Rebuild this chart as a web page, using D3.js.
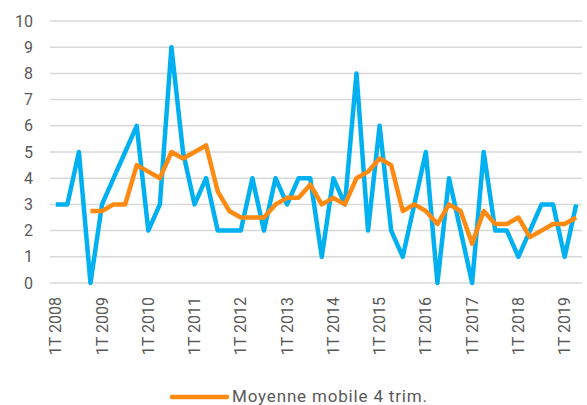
<!DOCTYPE html>
<html>
<head>
<meta charset="utf-8">
<script src="https://cdn.jsdelivr.net/npm/d3@7"></script>
<style>
  body { margin: 0; background: #fff; }
  svg text { font-family: Roboto, 'Noto Sans', sans-serif; fill: #595959; }
</style>
</head>
<body>
<div id="chart"></div>
<script>
// quarterly series, 1T 2008 .. 2T 2019
const years = d3.range(2008, 2020)
const quarters = []
years.forEach(y => [1, 2, 3, 4].forEach(q => quarters.push(`${q}T ${y}`)))
const categories = quarters.slice(0, 46)

const values = [3, 3, 5, 0, 3, 4, 5, 6, 2, 3, 9, 5, 3, 4, 2, 2,
  2, 4, 2, 4, 3, 4, 4, 1, 4, 3, 8, 2, 6, 2, 1, 3,
  5, 0, 4, 2, 0, 5, 2, 2, 1, 2, 3, 3, 1, 3]

// moyenne mobile 4 trim. (null before the first full window)
const movingAvg = [null, null, null, 2.75, 2.75, 3, 3, 4.5, 4.25, 4, 5, 4.75, 5, 5.25, 3.5, 2.75,
  2.5, 2.5, 2.5, 3, 3.25, 3.25, 3.75, 3, 3.25, 3, 4, 4.25, 4.75, 4.5, 2.75, 3,
  2.75, 2.25, 3, 2.75, 1.5, 2.75, 2.25, 2.25, 2.5, 1.75, 2, 2.25, 2.25, 2.5]

const yTicks = d3.range(0, 11)
const legendLabel = 'Moyenne mobile 4 trim.'

const width = 587
const height = 405
const margin = { top: 21, right: 5, bottom: 122, left: 50 }

const svg = d3.select('#chart').append('svg')
  .attr('width', width)
  .attr('height', height)

const xScale = d3.scaleBand()
  .domain(categories)
  .range([margin.left, width - margin.right])

const yScale = d3.scaleLinear()
  .domain([0, 10])
  .range([height - margin.bottom, margin.top])

// horizontal gridlines
svg.append('g')
  .selectAll('line')
  .data(yTicks)
  .join('line')
  .attr('x1', margin.left)
  .attr('x2', width - margin.right)
  .attr('y1', d => yScale(d))
  .attr('y2', d => yScale(d))
  .attr('stroke', '#d9d9d9')
  .attr('stroke-width', 1.5)

// y axis labels
const yAxis = d3.axisLeft(yScale).tickValues(yTicks).tickSize(0).tickPadding(17)
svg.append('g')
  .attr('transform', `translate(${margin.left},0)`)
  .call(yAxis)
  .call(g => g.select('.domain').remove())
  .selectAll('text')
  .style('font-size', '16px')

// x axis, one label per year (1T)
const xAxis = d3.axisBottom(xScale)
  .tickValues(categories.filter(d => d.startsWith('1T')))
  .tickSize(0)
svg.append('g')
  .attr('transform', `translate(0,${height - margin.bottom})`)
  .call(xAxis)
  .call(g => g.select('.domain').remove())
  .selectAll('text')
  .attr('transform', 'rotate(-90)')
  .attr('text-anchor', 'end')
  .attr('x', -14)
  .attr('y', 0)
  .attr('dy', '0.35em')
  .style('font-size', '16px')

const cx = d => xScale(d) + xScale.bandwidth() / 2

// raw series
const line = d3.line()
  .x((d, i) => cx(categories[i]))
  .y(d => yScale(d))

svg.append('path')
  .datum(values)
  .attr('fill', 'none')
  .attr('stroke', '#00b0f0')
  .attr('stroke-width', 4.5)
  .attr('stroke-linejoin', 'round')
  .attr('d', line)

// moving average
const avgLine = d3.line()
  .defined(d => d !== null)
  .x((d, i) => cx(categories[i]))
  .y(d => yScale(d))

svg.append('path')
  .datum(movingAvg)
  .attr('fill', 'none')
  .attr('stroke', '#ff8a12')
  .attr('stroke-width', 4.5)
  .attr('stroke-linejoin', 'round')
  .attr('d', avgLine)

// legend (sits on the bottom edge, as in the original)
const legend = svg.append('g').attr('transform', 'translate(172,397)')
legend.append('line')
  .attr('x1', 0)
  .attr('x2', 55)
  .attr('stroke', '#ff8a12')
  .attr('stroke-width', 4.5)
  .attr('stroke-linecap', 'round')
legend.append('text')
  .attr('x', 60)
  .attr('y', 5)
  .attr('textLength', 195)
  .attr('lengthAdjust', 'spacing')
  .style('font-size', '17px')
  .text(legendLabel)
</script>
</body>
</html>
